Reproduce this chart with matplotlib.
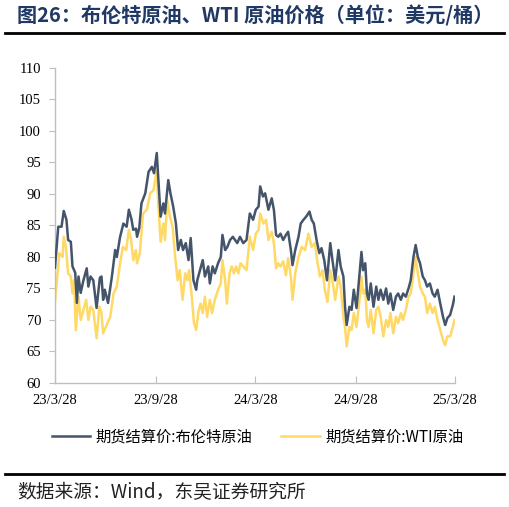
import pandas as pd
import matplotlib.pyplot as plt

plt.rcParams['font.family'] = ['Noto Sans CJK SC', 'DejaVu Sans']

# 期货结算价（美元/桶），横轴为距 2023-03-28 的天数
start = '2023-03-28'

brent_days = [0, 6, 12, 16, 21, 24, 29, 32, 37, 40, 43, 47, 52, 58, 61, 65, 70, 76, 82, 85,
              88, 91, 97, 104, 110, 113, 119, 125, 131, 135, 140, 143, 148, 150, 154, 158, 165,
              171, 177, 181, 186, 193, 198, 201, 207, 211, 216, 221, 225, 230, 234, 239, 244,
              248, 253, 258, 260, 265, 270, 274, 280, 283, 288, 292, 298, 303, 306, 311, 315,
              320, 325, 329, 333, 338, 344, 350, 356, 362, 367, 372, 375, 380, 384, 390, 396,
              400, 404, 408, 412, 417, 422, 426, 431, 434, 439, 445, 449, 454, 459, 465, 469,
              473, 478, 483, 487, 492, 497, 503, 507, 512, 518, 522, 527, 530, 533, 538, 542,
              546, 551, 557, 560, 563, 567, 570, 573, 577, 582, 587, 591, 595, 600, 605, 609,
              613, 618, 623, 627, 632, 636, 641, 646, 650, 655, 659, 663, 667, 672, 676, 680,
              685, 690, 694, 699, 704, 709, 713, 717, 722, 727, 730]
brent = [78.3, 84.8, 84.8, 87.3, 85.9, 82.7, 82.4, 78.5, 77.5, 72.7, 76.9, 74.3, 76.3, 78.2,
         75.3, 76.9, 76.3, 71.9, 76.7, 76.9, 73.2, 74.8, 72.7, 76.9, 81.1, 80.0, 83.2, 85.3,
         84.8, 87.5, 85.9, 84.3, 84.5, 83.2, 84.6, 88.5, 90.1, 93.5, 94.3, 93.3, 96.5, 86.4,
         88.5, 86.9, 92.2, 90.1, 88.0, 85.3, 81.1, 82.7, 81.1, 82.2, 79.5, 83.0, 76.3, 74.8,
         76.3, 77.9, 79.5, 76.9, 78.5, 75.8, 78.5, 77.4, 79.0, 80.0, 83.5, 81.1, 81.6, 82.7,
         83.2, 82.7, 82.2, 83.2, 82.2, 82.7, 86.9, 85.9, 87.5, 88.0, 91.2, 89.6, 90.1, 87.5,
         89.3, 87.5, 83.5, 83.2, 83.7, 82.7, 83.5, 84.0, 81.1, 78.7, 81.1, 83.2, 85.3, 85.9,
         86.4, 87.2, 85.9, 85.3, 82.7, 80.6, 81.4, 79.5, 76.3, 82.2, 79.5, 76.3, 81.1, 78.5,
         76.9, 72.1, 69.2, 72.1, 71.6, 74.8, 71.9, 77.9, 80.8, 77.9, 79.0, 74.2, 73.2, 75.8,
         72.1, 75.3, 73.2, 74.8, 73.2, 75.0, 72.6, 74.2, 71.6, 73.7, 74.2, 73.2, 74.2, 73.7,
         75.0, 76.3, 80.0, 81.9, 80.0, 79.0, 76.9, 76.3, 75.3, 75.8, 74.2, 73.7, 74.8, 72.6,
         70.5, 69.2, 70.3, 70.8, 72.4, 73.7]

wti_days = [0, 8, 14, 16, 20, 24, 29, 32, 35, 38, 43, 47, 52, 57, 61, 65, 70, 76, 81, 85, 88,
            93, 97, 101, 107, 113, 119, 124, 130, 135, 139, 143, 148, 150, 155, 161, 168, 174,
            180, 186, 189, 193, 198, 201, 205, 210, 215, 219, 224, 228, 233, 238, 242, 245, 250,
            254, 258, 262, 266, 270, 274, 278, 283, 287, 292, 298, 303, 306, 311, 314, 319, 323,
            327, 331, 335, 339, 344, 350, 356, 362, 367, 372, 375, 381, 386, 390, 396, 400, 404,
            408, 412, 417, 422, 426, 431, 434, 439, 445, 451, 457, 463, 469, 475, 479, 484, 489,
            493, 498, 503, 507, 512, 518, 522, 527, 530, 533, 538, 542, 546, 551, 557, 560, 563,
            567, 570, 573, 577, 582, 587, 591, 595, 600, 605, 609, 613, 618, 623, 627, 632, 636,
            641, 646, 650, 655, 659, 663, 667, 672, 676, 680, 685, 690, 694, 699, 704, 709, 713,
            717, 722, 727, 730]
wti = [72.8, 80.6, 80.0, 83.2, 81.6, 77.4, 76.9, 74.2, 76.3, 68.4, 73.7, 70.0, 71.6, 73.2, 70.0,
       72.1, 71.6, 67.1, 72.1, 71.1, 67.9, 68.9, 69.7, 70.5, 74.2, 75.3, 79.0, 81.6, 81.1, 84.3,
       82.7, 79.5, 81.1, 79.0, 80.6, 86.9, 87.5, 90.1, 90.6, 93.8, 88.0, 82.4, 85.3, 82.7, 89.0,
       86.4, 84.8, 80.6, 76.3, 77.9, 73.2, 77.4, 76.3, 77.9, 73.7, 69.5, 68.4, 71.3, 72.6, 71.1,
       73.7, 70.5, 73.2, 71.1, 73.2, 74.8, 75.8, 79.5, 76.3, 72.6, 77.4, 78.5, 77.4, 78.5, 77.4,
       79.0, 78.5, 77.9, 83.2, 81.1, 83.7, 84.3, 86.9, 85.3, 85.9, 82.7, 84.0, 82.2, 78.2, 79.0,
       78.5, 79.3, 77.1, 79.8, 76.9, 73.2, 77.4, 80.0, 81.6, 81.1, 83.7, 81.6, 82.2, 79.5, 76.9,
       77.9, 74.8, 72.9, 77.9, 76.3, 73.2, 76.9, 75.3, 70.5, 68.9, 65.8, 68.9, 68.4, 71.1, 68.9,
       73.7, 76.9, 74.2, 74.8, 70.0, 68.9, 71.6, 67.9, 71.6, 72.1, 70.5, 67.4, 70.0, 68.9, 71.1,
       67.9, 70.5, 69.5, 71.1, 70.0, 71.6, 73.7, 74.2, 77.4, 80.0, 77.4, 75.3, 74.2, 73.7, 71.1,
       72.6, 71.1, 72.1, 70.0, 68.4, 66.8, 66.0, 67.4, 67.4, 68.9, 70.0]

xtick_dates = ['2023-03-28', '2023-09-28', '2024-03-28', '2024-09-28', '2025-03-28']
xtick_labels = ['23/3/28', '23/9/28', '24/3/28', '24/9/28', '25/3/28']

t0 = pd.Timestamp(start)
xb = t0 + pd.to_timedelta(brent_days, unit='D')
xw = t0 + pd.to_timedelta(wti_days, unit='D')

fig = plt.figure(figsize=(5.09, 5.07), dpi=100)
ax = fig.add_axes([0.108, 0.2446, 0.786, 0.6214])

ax.plot(xw, wti, color='#FFD966', lw=1.8, label='期货结算价:WTI原油', zorder=2)
ax.plot(xb, brent, color='#44546A', lw=1.8, label='期货结算价:布伦特原油', zorder=3)

ax.set_ylim(60, 110)
ax.set_yticks(range(60, 111, 5))
ax.set_xlim(t0, pd.Timestamp('2025-03-28'))
ax.set_xticks(pd.to_datetime(xtick_dates))
ax.set_xticklabels(xtick_labels)

for s in ['top', 'right']:
    ax.spines[s].set_visible(False)
for s in ['left', 'bottom']:
    ax.spines[s].set_color('#BFBFBF')
    ax.spines[s].set_linewidth(1.0)

ax.tick_params(axis='y', direction='out', length=4, color='#BFBFBF', labelsize=10.5, pad=6)
ax.tick_params(axis='x', direction='in', length=5, color='#BFBFBF', labelsize=10.5, pad=8)
for lab in ax.get_xticklabels() + ax.get_yticklabels():
    lab.set_family('Liberation Serif')

h, l = ax.get_legend_handles_labels()
fig.legend([h[1], h[0]], [l[1], l[0]], loc='center', bbox_to_anchor=(0.506, 0.138), ncol=2,
           frameon=False, fontsize=11, handlelength=2.5, columnspacing=1.9, handletextpad=0.35)

fig.text(0.034, 0.968, '图26：布伦特原油、WTI 原油价格（单位：美元/桶）', fontsize=14.5,
         fontweight='bold', color='#1F3864', va='center', ha='left')
fig.add_artist(plt.Line2D([0.01, 0.99], [0.935, 0.935], color='black', lw=2))
fig.add_artist(plt.Line2D([0.01, 0.99], [0.065, 0.065], color='black', lw=2))
fig.text(0.034, 0.029, '数据来源：Wind，东吴证券研究所', fontsize=13.5, va='center', ha='left',
         color='#222222')

fig.savefig('out.png', dpi=100)
